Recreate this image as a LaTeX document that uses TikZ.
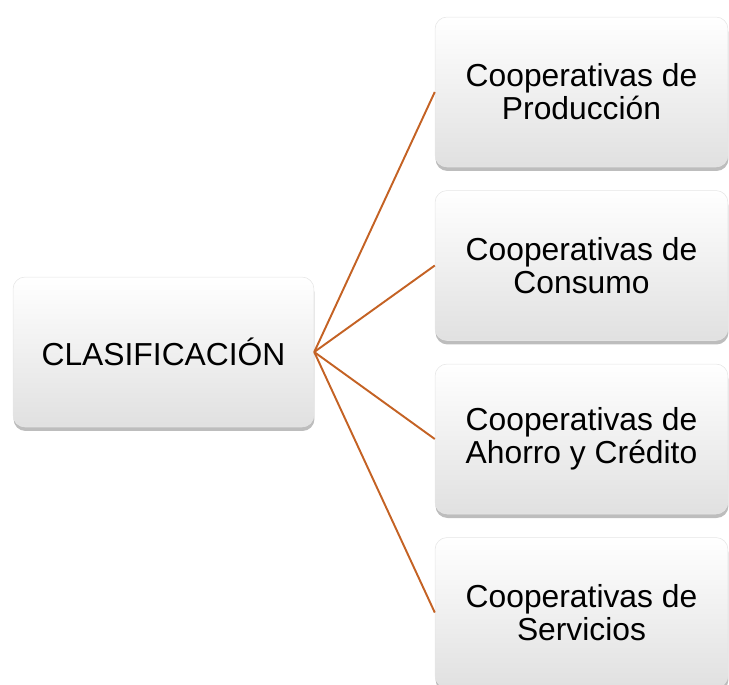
\documentclass[tikz,border=0pt]{standalone}
\usepackage{fontspec}
\setmainfont{Liberation Sans}
\usetikzlibrary{shadows}
\definecolor{linea}{RGB}{196,98,36}
\tikzset{
  caja/.style={rectangle, rounded corners=0.24cm, draw=black!10, line width=0.3pt,
    top color=white, middle color=white, bottom color=black!12,
    drop shadow={shadow xshift=0.01cm, shadow yshift=-0.08cm, opacity=0.4, fill=black!65},
    minimum height=3cm, align=center, inner sep=0pt,
    font=\fontsize{18.1}{18.9}\selectfont},
  enlace/.style={draw=linea, line width=1.1pt}
}
\begin{document}
\begin{tikzpicture}[x=0.02cm, y=-0.02cm]
\useasboundingbox (0,0) rectangle (729,684);
\clip (0,0) rectangle (729,684);
\node[caja, minimum width=6.02cm] (clasif) at (163.5,352) {CLASIFICACIÓN};
\foreach \i/\txt in {0/Producción, 1/Consumo, 2/Ahorro y Crédito, 3/Servicios}
{
  \node[caja, minimum width=5.86cm] (tipo\i) at (581.5,92+173.5*\i) {Cooperativas de\\\txt};
  \draw[enlace] (clasif.east) -- (tipo\i.west);
}
\end{tikzpicture}
\end{document}
